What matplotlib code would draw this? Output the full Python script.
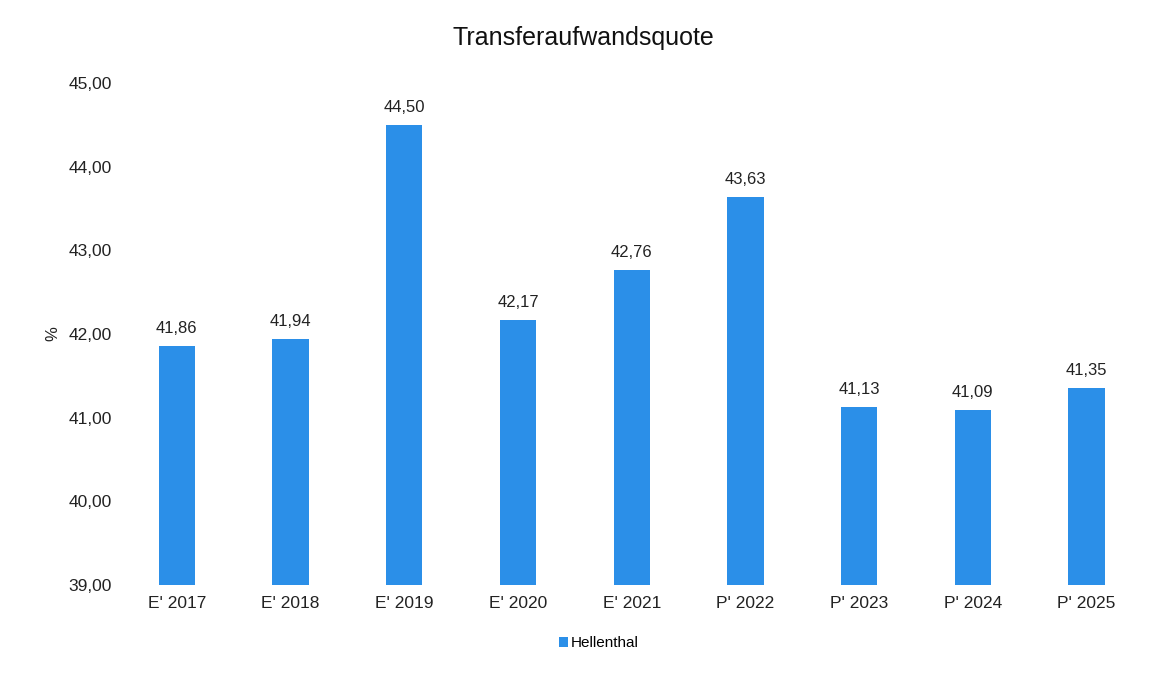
import matplotlib.pyplot as plt

plt.rcParams['font.family'] = ['Liberation Sans', 'DejaVu Sans']

# Daten
jahre = ["E' 2017", "E' 2018", "E' 2019", "E' 2020", "E' 2021",
         "P' 2022", "P' 2023", "P' 2024", "P' 2025"]
werte = [41.86, 41.94, 44.50, 42.17, 42.76, 43.63, 41.13, 41.09, 41.35]
y_ticks = [39, 40, 41, 42, 43, 44, 45]

fig = plt.figure(figsize=(11.67, 6.75), dpi=100)
ax = fig.add_axes([0.1028, 0.1333, 0.877, 0.744])

x = range(len(jahre))
bars = ax.bar(x, [w - 39 for w in werte], bottom=39, width=0.32,
              color='#2b8fe8', label='Hellenthal')

for xi, w in zip(x, werte):
    ax.text(xi, w + 0.12, f'{w:.2f}'.replace('.', ','), ha='center',
            va='bottom', fontsize=12, color='#222222')

ax.set_xlim(-0.5, len(jahre) - 0.5)
ax.set_ylim(39, 45)
ax.set_yticks(y_ticks)
ax.set_yticklabels([f'{t:.2f}'.replace('.', ',') for t in y_ticks])
ax.set_xticks(list(x))
ax.set_xticklabels(jahre)
ax.tick_params(axis='both', length=0, labelsize=12.5, colors='#222222')
ax.tick_params(axis='y', pad=6)
ax.tick_params(axis='x', pad=8)
for s in ax.spines.values():
    s.set_visible(False)

ax.set_ylabel('%', fontsize=12, color='#222222', labelpad=6)
fig.suptitle('Transferaufwandsquote', fontsize=18, y=0.962, color='#111111')

fig.legend(handles=[bars], labels=['Hellenthal'], loc='center',
           bbox_to_anchor=(0.513, 0.047), frameon=False, fontsize=11,
           handlelength=0.6, handleheight=0.6, handletextpad=0.2)

plt.savefig('out.png')
